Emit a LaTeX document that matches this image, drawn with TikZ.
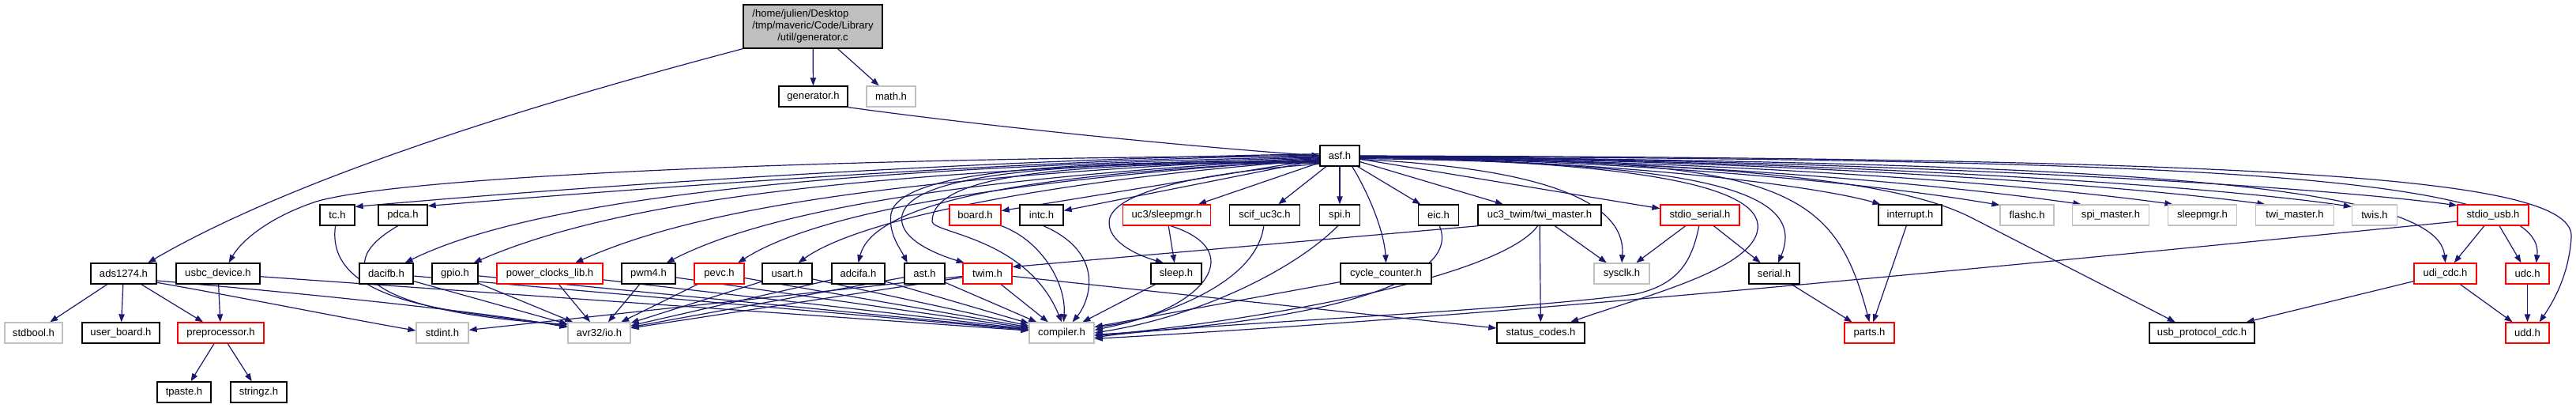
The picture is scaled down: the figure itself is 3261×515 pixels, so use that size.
\documentclass[tikz,border=0pt]{standalone}
\usepackage{fontspec}
\setmainfont{Liberation Sans}
\usetikzlibrary{arrows.meta}
\pgfdeclarelayer{background}
\pgfsetlayers{background,main}
\definecolor{incblue}{HTML}{191970}
\definecolor{hdrred}{HTML}{FF0000}
\definecolor{hdrgray}{HTML}{BFBFBF}

\begin{document}
\begin{tikzpicture}[x=0.75pt,y=-0.75pt,
  hdr/.style={draw=black, line width=1pt, fill=white, minimum height=19.5pt, inner sep=0pt, font=\fontsize{9.8}{11.25}\selectfont},
  hdrmissing/.style={hdr, draw=hdrred},
  hdrsys/.style={hdr, draw=hdrgray},
  rootfile/.style={hdr, fill=hdrgray, minimum width=132pt, minimum height=41.25pt},
  inc/.style={draw=incblue, line width=0.9pt, -{Triangle[length=7.5pt,width=5.5pt]}}]
\useasboundingbox (0,0) rectangle (3261,515);

\node[rootfile] (root) at (1029,33.5) {\begin{tabular}{@{}l@{}}/home/julien/Desktop\\/tmp/maveric/Code/Library\\\multicolumn{1}{@{}c@{}}{/util/generator.c}\end{tabular}};
\node[hdr, minimum width=65.25pt] (gen) at (1029.5,122) {generator.h};
\node[hdrsys, minimum width=46.5pt] (math) at (1128,122) {math.h};
\node[hdr, minimum width=37.5pt] (asf) at (1696,197) {asf.h};

\node[hdr, minimum width=33pt] (tc) at (427,272) {tc.h};
\node[hdr, minimum width=46.5pt] (pdca) at (510,272) {pdca.h};
\node[hdrmissing, minimum width=48.75pt] (board) at (1234.5,272) {board.h};
\node[hdr, minimum width=41.25pt] (intc) at (1318.5,272) {intc.h};
\node[hdrmissing, minimum width=83.25pt] (slpmgr) at (1477,272) {uc3/sleepmgr.h};
\node[hdr, minimum width=66.75pt] (scif) at (1601,272) {scif\_uc3c.h};
\node[hdr, minimum width=38.25pt] (spi) at (1696,272) {spi.h};
\node[hdr, minimum width=38.25pt] (eic) at (1821,272) {eic.h};
\node[hdr, minimum width=117pt] (twimst) at (1949,272) {uc3\_twim/twi\_master.h};
\node[hdrmissing, minimum width=75pt] (stdser) at (2152,272) {stdio\_serial.h};
\node[hdr, minimum width=60pt] (intr) at (2418,272) {interrupt.h};
\node[hdrsys, minimum width=51pt] (flashc) at (2566,272) {flashc.h};
\node[hdrsys, minimum width=72.75pt] (spimst) at (2672,272) {spi\_master.h};
\node[hdrsys, minimum width=65.25pt] (slpmgrh) at (2788,272) {sleepmgr.h};
\node[hdrsys, minimum width=74.25pt] (twimsth) at (2905,272) {twi\_master.h};
\node[hdrsys, minimum width=42.75pt] (twis) at (3006,272) {twis.h};
\node[hdrmissing, minimum width=67.5pt] (stdusb) at (3156,272) {stdio\_usb.h};

\node[hdr, minimum width=62.25pt] (ads) at (156.5,346) {ads1274.h};
\node[hdr, minimum width=79.5pt] (usbc) at (276,346) {usbc\_device.h};
\node[hdr, minimum width=51pt] (dacifb) at (489,346) {dacifb.h};
\node[hdr, minimum width=43.5pt] (gpio) at (576,346) {gpio.h};
\node[hdrmissing, minimum width=100.5pt] (pcl) at (696,346) {power\_clocks\_lib.h};
\node[hdr, minimum width=51pt] (pwm) at (821,346) {pwm4.h};
\node[hdrmissing, minimum width=47.25pt] (pevc) at (910.5,346) {pevc.h};
\node[hdr, minimum width=47.25pt] (usart) at (996.5,346) {usart.h};
\node[hdr, minimum width=50.25pt] (adcifa) at (1086.5,346) {adcifa.h};
\node[hdr, minimum width=38.25pt] (ast) at (1170.5,346) {ast.h};
\node[hdrmissing, minimum width=46.5pt] (twim) at (1250,346) {twim.h};
\node[hdr, minimum width=48pt] (sleep) at (1489,346) {sleep.h};
\node[hdr, minimum width=86.25pt] (cycle) at (1754.5,346) {cycle\_counter.h};
\node[hdrsys, minimum width=52.5pt] (sysclk) at (2053,346) {sysclk.h};
\node[hdr, minimum width=48pt] (serial) at (2246,346) {serial.h};
\node[hdrmissing, minimum width=59.25pt] (udicdc) at (3095.5,346) {udi\_cdc.h};
\node[hdrmissing, minimum width=41.25pt] (udc) at (3199.5,346) {udc.h};

\node[hdrsys, minimum width=54.75pt] (stdbool) at (42.5,421) {stdbool.h};
\node[hdr, minimum width=73.5pt] (userbrd) at (153,421) {user\_board.h};
\node[hdrmissing, minimum width=81.75pt] (preproc) at (279.5,421) {preprocessor.h};
\node[hdrsys, minimum width=49.5pt] (stdint) at (560,421) {stdint.h};
\node[hdrsys, minimum width=59.25pt] (avr) at (758.5,421) {avr32/io.h};
\node[hdrsys, minimum width=61.5pt] (compiler) at (1344,421) {compiler.h};
\node[hdr, minimum width=83.25pt] (status) at (1950.5,421) {status\_codes.h};
\node[hdrmissing, minimum width=47.25pt] (parts) at (2366.5,421) {parts.h};
\node[hdr, minimum width=99.75pt] (usbcdc) at (2787.5,421) {usb\_protocol\_cdc.h};
\node[hdrmissing, minimum width=41.25pt] (udd) at (3199.5,421) {udd.h};

\node[hdr, minimum width=51pt] (tpaste) at (233,496) {tpaste.h};
\node[hdr, minimum width=53.25pt] (stringz) at (327.5,496) {stringz.h};

\begin{pgfonlayer}{background}
\draw[inc] (root) -- (gen);
\draw[inc] (root) -- (math);
\draw[inc] (root.south west) .. controls (700,125) and (380,220) .. (ads.24);
\draw[inc] (gen.south east) .. controls (1250,160) and (1500,185) .. (asf.west);

\draw[inc] (asf.175) .. controls (1300,200) and (800,230) .. (tc.25);
\draw[inc] (asf.178) .. controls (1300,202) and (850,235) .. (pdca.20);
\draw[inc] (asf.180) .. controls (1000,200) and (500,225) .. (400,255) .. controls (340,275) and (305,305) .. (usbc.45);
\draw[inc] (asf.182) .. controls (1150,210) and (700,240) .. (dacifb.30);
\draw[inc] (asf.184) .. controls (1150,215) and (800,245) .. (gpio.30);
\draw[inc] (asf.186) .. controls (1200,220) and (900,255) .. (pcl.23);
\draw[inc] (asf.188) .. controls (1250,222) and (980,262) .. (pwm.31);
\draw[inc] (asf.190) .. controls (1300,225) and (1040,265) .. (pevc.30);
\draw[inc] (asf.192) .. controls (1350,225) and (1090,275) .. (usart.44);
\draw[inc] (asf.194) .. controls (1400,215) and (1110,240) .. (adcifa.north);
\draw[inc] (asf.196) .. controls (1350,203) and (1140,215) .. (1128,270) .. controls (1124,295) and (1140,315) .. (ast.148);
\draw[inc] (asf.198) .. controls (1350,204) and (1155,218) .. (1142,272) .. controls (1136,300) and (1180,320) .. (twim.155);
\draw[inc] (asf.200) .. controls (1350,205) and (1180,220) .. (1180,280) .. controls (1180,295) and (1300,300) .. (compiler.north);
\draw[inc] (asf) -- (board);
\draw[inc] (asf) -- (intc);
\draw[inc] (asf.202) .. controls (1560,215) and (1420,235) .. (1405,275) .. controls (1398,300) and (1430,320) .. (sleep.140);
\draw[inc] (asf) -- (slpmgr);
\draw[inc] (asf) -- (scif);
\draw[inc] (asf) -- (spi);
\draw[inc] (asf.-41) .. controls (1730,240) and (1752,290) .. (cycle.north);
\draw[inc] (asf) -- (eic);
\draw[inc] (asf) -- (twimst);
\draw[inc] (asf.-10) .. controls (1900,210) and (2060,240) .. (sysclk.north);
\draw[inc] (asf) -- (stdser);
\draw[inc] (asf.-4) .. controls (2100,205) and (2250,240) .. (2222,300) .. controls (2200,345) and (2080,375) .. (status.20);
\draw[inc] (asf.-8) .. controls (2150,205) and (2290,240) .. (serial.70);
\draw[inc] (asf.-6) .. controls (2250,200) and (2320,230) .. (parts.north);
\draw[inc] (asf.-5) .. controls (2050,203) and (2300,235) .. (intr.160);
\draw[inc] (asf.-4) .. controls (2086,203) and (2370,232) .. (flashc.160);
\draw[inc] (asf.-3) .. controls (2130,203) and (2450,232) .. (spimst.160);
\draw[inc] (asf.-3) .. controls (2180,203) and (2560,232) .. (slpmgrh.160);
\draw[inc] (asf.-2) .. controls (2230,202) and (2670,232) .. (twimsth.160);
\draw[inc] (asf.-2) .. controls (2280,202) and (2780,232) .. (twis.160);
\draw[inc] (asf.-1) .. controls (2350,202) and (2900,232) .. (stdusb.165);
\draw[inc] (asf.-3) .. controls (2250,205) and (2420,237) .. (2495,275) -- (usbcdc.158);
\draw[inc] (asf.-2) .. controls (2600,205) and (3085,225) .. (udicdc.north);
\draw[inc] (asf.-1) .. controls (2700,202) and (3225,215) .. (udc.51);
\draw[inc] (asf.0) .. controls (2900,200) and (3260,225) .. (3255,300) .. controls (3252,350) and (3230,385) .. (udd.42);

\draw[inc] (ads) -- (stdbool);
\draw[inc] (ads) -- (userbrd);
\draw[inc] (ads) -- (preproc);
\draw[inc] (ads.-15) .. controls (300,375) and (450,405) .. (stdint.175);
\draw[inc] (ads.-12) .. controls (350,368) and (600,392) .. (avr.170);
\draw[inc] (usbc) -- (preproc);
\draw[inc] (usbc) -- (compiler);
\draw[inc] (preproc) -- (tpaste);
\draw[inc] (preproc) -- (stringz);

\draw[inc] (tc.-100) .. controls (410,390) and (600,395) .. (avr.168);
\draw[inc] (pdca.-115) .. controls (410,340) and (470,395) .. (avr.165);
\draw[inc] (dacifb) -- (avr);
\draw[inc] (dacifb) -- (compiler);
\draw[inc] (gpio) -- (avr);
\draw[inc] (gpio) -- (compiler);
\draw[inc] (pcl) -- (avr);
\draw[inc] (pcl) -- (compiler);
\draw[inc] (pwm) -- (avr);
\draw[inc] (pwm) -- (compiler);
\draw[inc] (pevc) -- (avr);
\draw[inc] (pevc) -- (compiler);
\draw[inc] (usart) -- (avr);
\draw[inc] (usart) -- (compiler);
\draw[inc] (adcifa) -- (avr);
\draw[inc] (adcifa) -- (compiler);
\draw[inc] (ast) -- (avr);
\draw[inc] (ast) -- (compiler);
\draw[inc] (twim) -- (avr);
\draw[inc] (twim) -- (stdint);
\draw[inc] (twim) -- (compiler);
\draw[inc] (twim) -- (status);

\draw[inc] (board.south east) .. controls (1320,305) and (1350,360) .. (compiler.80);
\draw[inc] (intc.-80) .. controls (1400,320) and (1380,380) .. (compiler.45);
\draw[inc] (slpmgr) -- (sleep);
\draw[inc] (slpmgr.-70) .. controls (1590,320) and (1510,400) .. (compiler.10);
\draw[inc] (sleep) -- (compiler);
\draw[inc] (scif.-95) .. controls (1590,360) and (1470,400) .. (compiler.5);
\draw[inc] (spi.-100) .. controls (1640,340) and (1520,400) .. (compiler.0);
\draw[inc] (cycle) -- (compiler);
\draw[inc] (eic.-85) .. controls (1850,350) and (1700,405) .. (compiler.-3);
\draw[inc] (twimst.190) -- (twim.15);
\draw[inc] (twimst.-100) .. controls (1900,350) and (1600,405) .. (compiler.-5);
\draw[inc] (twimst) -- (status);
\draw[inc] (twimst) -- (sysclk);
\draw[inc] (stdser) -- (sysclk);
\draw[inc] (stdser) -- (serial);
\draw[inc] (stdser.-95) .. controls (2142,330) and (2125,360) .. (2070,372) .. controls (1900,395) and (1500,410) .. (compiler.-8);
\draw[inc] (serial) -- (parts);
\draw[inc] (intr) -- (parts);
\draw[inc] (stdusb.190) .. controls (2500,340) and (1900,400) .. (compiler.-10);
\draw[inc] (stdusb) -- (udicdc);
\draw[inc] (stdusb) -- (udc);
\draw[inc] (udicdc) -- (usbcdc);
\draw[inc] (udicdc) -- (udd);
\draw[inc] (udc) -- (udd);
\end{pgfonlayer}
\end{tikzpicture}
\end{document}
